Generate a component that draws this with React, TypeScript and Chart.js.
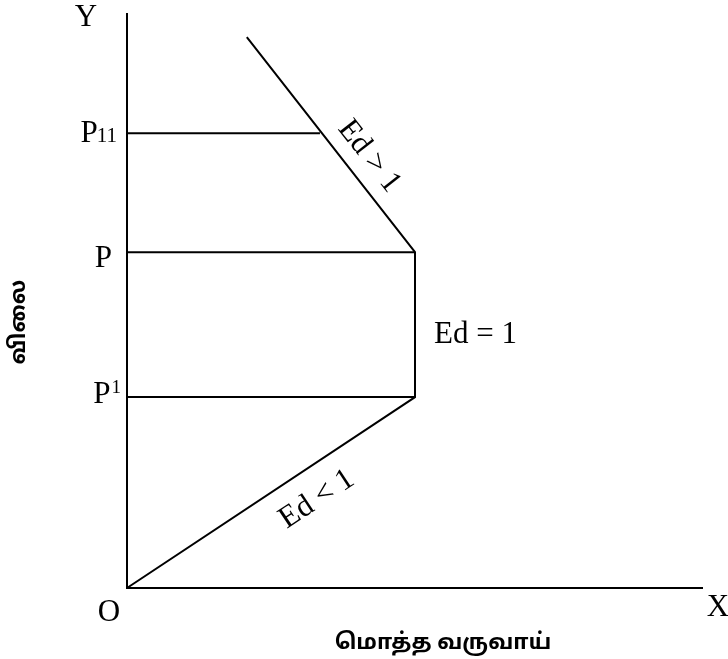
import React, { useEffect, useRef } from "react";
import { Chart, registerables } from "chart.js";

Chart.register(...registerables);

// Total revenue path (quantity/revenue units on X, price units on Y)
const revenueX = [0, 5, 5, 2.08];
const revenueY = [0, 3.32, 5.84, 9.58];

// Price levels marked on the Y axis
const priceLevels = [7.91, 5.84, 3.32];
const priceLineEnds = [3.35, 5, 5];
const priceMain = ["P", "P", "P"];
const priceSub = ["11", "", ""];
const priceSup = ["", "", "1"];

// Elasticity labels for each segment of the path
const segmentLabels = ["Ed < 1", "Ed = 1", "Ed > 1"];

const axisMax = 10;
const originLabel = "O";
const xAxisLabel = "X";
const yAxisLabel = "Y";
const xTitle = "மொத்த வருவாய்";
const yTitle = "விலை";

const SERIF = '"Liberation Serif", "Times New Roman", serif';
const TAMIL = '"Noto Sans Tamil", "Noto Serif Tamil", "Lohit Tamil", "Latha", "Noto Sans", sans-serif';

const labelPlugin = {
  id: "labels",
  afterDatasetsDraw(chart: any) {
    const ctx = chart.ctx as CanvasRenderingContext2D;
    const xs = chart.scales.x;
    const ys = chart.scales.y;
    const area = chart.chartArea;
    const ax = xs.getPixelForValue(0);
    const ay = ys.getPixelForValue(0);
    ctx.save();
    ctx.fillStyle = "#000";

    // Axis letters
    ctx.font = `31px ${SERIF}`;
    ctx.textAlign = "center";
    ctx.textBaseline = "middle";
    ctx.fillText(yAxisLabel, ax - 41, area.top + 5);
    ctx.fillText(originLabel, ax - 18, ay + 25);
    ctx.fillText(xAxisLabel, area.right + 15, ay + 20);

    // Price level labels
    const gaps = [9, 15, 7];
    const baseOff = [9, 15, 6];
    for (let i = 0; i < priceLevels.length; i++) {
      const y = ys.getPixelForValue(priceLevels[i]);
      ctx.textAlign = "left";
      ctx.textBaseline = "alphabetic";
      ctx.font = `31px ${SERIF}`;
      const wMain = ctx.measureText(priceMain[i]).width;
      ctx.font = `21px ${SERIF}`;
      const wSub = priceSub[i] ? ctx.measureText(priceSub[i]).width : 0;
      ctx.font = `19px ${SERIF}`;
      const wSup = priceSup[i] ? ctx.measureText(priceSup[i]).width : 0;
      const total = wMain + wSub + wSup;
      const x0 = ax - gaps[i] - total;
      const base = y + baseOff[i];
      ctx.font = `31px ${SERIF}`;
      ctx.fillText(priceMain[i], x0, base);
      if (priceSub[i]) {
        ctx.font = `21px ${SERIF}`;
        ctx.fillText(priceSub[i], x0 + wMain - 1, base);
      }
      if (priceSup[i]) {
        ctx.font = `19px ${SERIF}`;
        ctx.fillText(priceSup[i], x0 + wMain + 1, base - 10);
      }
    }

    // Segment elasticity labels
    const segCfg = [
      { t: 0.6, d: -31, rotate: true },
      { t: 0.43, d: 19, rotate: false },
      { t: 0.38, d: 23, rotate: true },
    ];
    ctx.font = `31px ${SERIF}`;
    for (let s = 0; s < segmentLabels.length; s++) {
      const Ax = xs.getPixelForValue(revenueX[s]);
      const Ay = ys.getPixelForValue(revenueY[s]);
      const Bx = xs.getPixelForValue(revenueX[s + 1]);
      const By = ys.getPixelForValue(revenueY[s + 1]);
      const cfg = segCfg[s];
      const px = Ax + (Bx - Ax) * cfg.t;
      const py = Ay + (By - Ay) * cfg.t;
      ctx.save();
      if (cfg.rotate) {
        let ang = Math.atan2(By - Ay, Bx - Ax);
        if (Math.cos(ang) < 0) ang += Math.PI;
        const ux = Math.sin(ang);
        const uy = -Math.cos(ang);
        ctx.translate(px + ux * cfg.d, py + uy * cfg.d);
        ctx.rotate(ang);
        ctx.textAlign = "center";
        ctx.textBaseline = "middle";
        ctx.fillText(segmentLabels[s], 0, 0);
      } else {
        ctx.textAlign = "left";
        ctx.textBaseline = "middle";
        ctx.fillText(segmentLabels[s], px + cfg.d, py);
      }
      ctx.restore();
    }

    // Titles
    ctx.textAlign = "center";
    ctx.textBaseline = "middle";
    ctx.font = `bold 22px ${TAMIL}`;
    ctx.fillText(xTitle, area.left + 316, ay + 57);
    ctx.save();
    ctx.translate(21, area.top + 309);
    ctx.rotate(-Math.PI / 2);
    ctx.fillText(yTitle, 0, 0);
    ctx.restore();

    ctx.restore();
  },
};

export default function App() {
  const ref = useRef<HTMLCanvasElement | null>(null);
  useEffect(() => {
    if (!ref.current) return;
    const line = (data: { x: number; y: number }[]) => ({
      data,
      showLine: true,
      borderColor: "#000",
      backgroundColor: "#000",
      borderWidth: 2,
      pointRadius: 0,
      fill: false,
      clip: false as any,
    });
    const datasets: any[] = [
      line([{ x: 0, y: axisMax }, { x: 0, y: 0 }, { x: axisMax, y: 0 }]),
      line(revenueX.map((x, i) => ({ x, y: revenueY[i] }))),
      ...priceLevels.map((p, i) => line([{ x: 0, y: p }, { x: priceLineEnds[i], y: p }])),
    ];
    const chart = new Chart(ref.current, {
      type: "scatter",
      data: { datasets },
      options: {
        responsive: false,
        animation: false,
        devicePixelRatio: 1,
        layout: { padding: { left: 127, right: 25, top: 13, bottom: 71 } },
        scales: {
          x: { type: "linear", min: 0, max: axisMax, display: false },
          y: { type: "linear", min: 0, max: axisMax, display: false },
        },
        plugins: { legend: { display: false }, tooltip: { enabled: false } },
      },
      plugins: [labelPlugin],
    });
    return () => chart.destroy();
  }, []);
  return (
    <div style={{ position: "fixed", left: 0, top: 0, width: 728, height: 659, background: "#fff" }}>
      <canvas ref={ref} width={728} height={659} />
    </div>
  );
}
